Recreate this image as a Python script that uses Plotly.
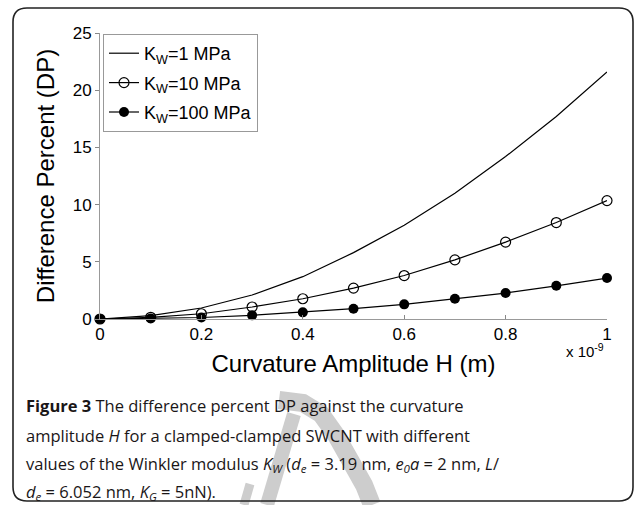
import plotly.graph_objects as go

# curvature amplitude H (x 10^-9 m)
H = [0, 0.1, 0.2, 0.3, 0.4, 0.5, 0.6, 0.7, 0.8, 0.9, 1.0]
dp_1mpa = [0, 0.3, 0.96, 2.1, 3.7, 5.8, 8.2, 11.0, 14.2, 17.7, 21.6]
dp_10mpa = [0, 0.15, 0.46, 1.05, 1.77, 2.7, 3.8, 5.17, 6.72, 8.43, 10.35]
dp_100mpa = [0, 0.05, 0.13, 0.32, 0.58, 0.9, 1.28, 1.77, 2.27, 2.9, 3.58]
y_ticks = [0, 5, 10, 15, 20, 25]
x_ticks = [0, 0.2, 0.4, 0.6, 0.8, 1]
x_ticktext = ['0', '0.2', '0.4', '0.6', '0.8', '1']

caption = [
    '<b>Figure 3</b> The difference percent DP against the curvature',
    'amplitude <i>H</i> for a clamped-clamped SWCNT with different',
    'values of the Winkler modulus <i>K<sub>W</sub></i> (<i>d<sub>e</sub></i> = 3.19 nm, <i>e<sub>0</sub>a</i> = 2 nm, <i>L</i>/',
    '<i>d<sub>e</sub></i> = 6.052 nm, <i>K<sub>G</sub></i> = 5nN).',
]

W, Hh = 634, 505
L, R, T, B = 100, 607, 33, 319


def px(x):
    return (x - L) / (R - L)


def py(y):
    return (B - y) / (B - T)


def poly(pts):
    return 'M ' + ' L '.join(f'{px(a):.5f},{py(b):.5f}' for a, b in pts)


fig = go.Figure()

fig.add_trace(go.Scatter(
    x=H, y=dp_1mpa, mode='lines', name='K<sub>W</sub>=1 MPa', legendgroup='a',
    line=dict(color='black', width=1.2),
))
fig.add_trace(go.Scatter(
    x=H, y=dp_10mpa, mode='lines+markers', name='K<sub>W</sub>=10 MPa', legendgroup='b',
    line=dict(color='black', width=1.2),
    marker=dict(symbol='circle-open', size=10, color='black', line=dict(width=1.2)),
    cliponaxis=False,
))
fig.add_trace(go.Scatter(
    x=H, y=dp_100mpa, mode='lines+markers', name='K<sub>W</sub>=100 MPa', legendgroup='c',
    line=dict(color='black', width=1.2),
    marker=dict(symbol='circle', size=10, color='black'),
    cliponaxis=False,
))

axis_font = dict(family='Liberation Sans, Arial', size=17, color='black')

fig.update_layout(
    width=W, height=Hh,
    margin=dict(l=L, r=W - R, t=T, b=Hh - B),
    paper_bgcolor='white', plot_bgcolor='white',
    font=dict(family='Liberation Sans, Arial', color='black'),
    xaxis=dict(
        range=[0, 1], tickvals=x_ticks, ticktext=x_ticktext,
        ticks='inside', ticklen=4, tickcolor='#888',
        showline=True, linecolor='#999', linewidth=1,
        showgrid=False, zeroline=False, tickfont=axis_font,
        title=dict(text='Curvature Amplitude H (m)', font=dict(size=24), standoff=11),
    ),
    yaxis=dict(
        range=[0, 25], tickvals=y_ticks,
        ticks='outside', ticklen=4, tickcolor='#888',
        showline=True, linecolor='#999', linewidth=1,
        showgrid=False, zeroline=False, tickfont=axis_font,
        title=dict(text='Difference Percent (DP)', font=dict(size=24), standoff=11),
    ),
    legend=dict(
        x=px(103), y=py(34), xanchor='left', yanchor='top',
        bgcolor='white', bordercolor='#999', borderwidth=1,
        font=dict(size=18), itemwidth=30, tracegroupgap=3,
    ),
)

fig.add_annotation(
    xref='paper', yref='paper', x=px(606), y=py(350), xanchor='right', yanchor='middle',
    text='x 10<sup>-9</sup>', showarrow=False, font=dict(size=15, color='black'),
)

# light grey watermark behind the caption
bowl = [(279, 400), (303, 403), (321, 414), (336, 435), (350, 460), (364, 485), (372, 505)]
stem = [(294, 414), (267, 505)]
tail = [(250, 484), (244, 505)]
for pts, wd in [(bowl, 18), (stem, 14), (tail, 9)]:
    fig.add_shape(type='path', path=poly(pts), xref='paper', yref='paper',
                  line=dict(color='#cdcdcd', width=wd), layer='below')

cap_y = [405, 435, 464, 492]
for line, yy in zip(caption, cap_y):
    fig.add_annotation(
        xref='paper', yref='paper', x=px(24), y=py(yy), xanchor='left', yanchor='middle',
        text=line, showarrow=False, align='left',
        font=dict(family='Open Sans, Noto Sans', size=16.5, color='#1a1617'),
    )

# rounded frame around the figure
x0, x1, y0, y1, r = 13, 633, 8, 501, 14
path = (
    f'M {px(x0 + r)},{py(y0)} L {px(x1 - r)},{py(y0)} '
    f'Q {px(x1)},{py(y0)} {px(x1)},{py(y0 + r)} '
    f'L {px(x1)},{py(y1 - r)} Q {px(x1)},{py(y1)} {px(x1 - r)},{py(y1)} '
    f'L {px(x0 + r)},{py(y1)} Q {px(x0)},{py(y1)} {px(x0)},{py(y1 - r)} '
    f'L {px(x0)},{py(y0 + r)} Q {px(x0)},{py(y0)} {px(x0 + r)},{py(y0)} Z'
)
fig.add_shape(type='path', path=path, xref='paper', yref='paper',
              line=dict(color='#222', width=1.6), layer='below')

fig.write_html('out.html', config={'displayModeBar': False},
               post_script="document.body.style.margin='0';")
